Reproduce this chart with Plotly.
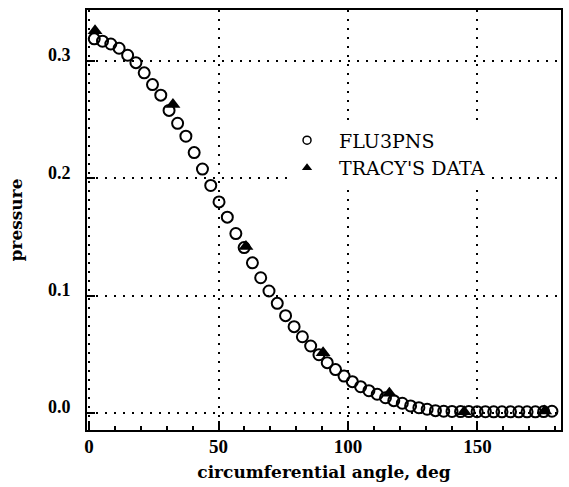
import plotly.graph_objects as go

# FLU3PNS (open circles)
flu_angle = [2.0, 5.2, 8.4, 11.6, 14.9, 18.1, 21.3, 24.5, 27.7, 30.9,
             34.2, 37.4, 40.6, 43.8, 47.0, 50.2, 53.4, 56.7, 59.9, 63.1,
             66.3, 69.5, 72.7, 75.9, 79.2, 82.4, 85.6, 88.8, 92.0, 95.2,
             98.5, 101.7, 104.9, 108.1, 111.3, 114.5, 117.7, 121.0, 124.2, 127.4,
             130.6, 133.8, 137.0, 140.2, 143.5, 146.7, 149.9, 153.1, 156.3, 159.5,
             162.8, 166.0, 169.2, 172.4, 175.6, 178.8]
flu_pressure = [0.319, 0.317, 0.3146, 0.311, 0.305, 0.2987, 0.290, 0.280, 0.271, 0.258,
                0.247, 0.236, 0.222, 0.208, 0.194, 0.180, 0.167, 0.153, 0.141, 0.128,
                0.1153, 0.104, 0.0935, 0.083, 0.0736, 0.065, 0.0571, 0.0497, 0.0429, 0.037,
                0.0315, 0.0267, 0.0224, 0.019, 0.016, 0.013, 0.0105, 0.0083, 0.006, 0.0045,
                0.0032, 0.002, 0.0015, 0.0013, 0.0012, 0.0012, 0.0011, 0.0011, 0.001, 0.001,
                0.001, 0.001, 0.001, 0.001, 0.0012, 0.0015]

# TRACY'S DATA (filled triangles)
tracy_angle = [2.3, 32.4, 60.6, 90.4, 116.0, 144.9, 176.0]
tracy_pressure = [0.326, 0.263, 0.142, 0.0514, 0.0168, 0.0011, 0.0017]

x_ticks = [0, 50, 100, 150]
y_ticks = [0.0, 0.1, 0.2, 0.3]
y_tick_labels = ["0.0", "0.1", "0.2", "0.3"]

serif = "Liberation Serif"
wide_serif = "DejaVu Serif"
nb = "\u00a0\u00a0"

fig = go.Figure()
fig.add_trace(go.Scatter(
    x=flu_angle, y=flu_pressure, mode="markers", name="FLU3PNS", showlegend=False,
    marker=dict(symbol="circle-open", size=11, color="black", line=dict(width=2, color="black")),
))
fig.add_trace(go.Scatter(
    x=tracy_angle, y=tracy_pressure, mode="markers", name="TRACY'S DATA", showlegend=False,
    marker=dict(symbol="triangle-up", size=13, color="black"),
))
# legend entries with smaller symbols
fig.add_trace(go.Scatter(
    x=[None], y=[None], mode="markers", name=nb + "FLU3PNS",
    marker=dict(symbol="circle-open", size=8, color="black", line=dict(width=1.5, color="black")),
))
fig.add_trace(go.Scatter(
    x=[None], y=[None], mode="markers", name=nb + "TRACY'S DATA",
    marker=dict(symbol="triangle-up", size=9, color="black"),
))

fig.update_layout(
    width=569, height=487,
    margin=dict(l=87, r=6, t=10, b=57),
    paper_bgcolor="white", plot_bgcolor="white",
    font=dict(family=serif, color="black"),
    legend=dict(
        x=0.422, y=0.735, xanchor="left", yanchor="top",
        bgcolor="white", borderwidth=0,
        font=dict(family=wide_serif, size=19, color="black"),
        tracegroupgap=0,
    ),
)

fig.update_xaxes(
    range=[-0.8, 182.3],
    tickvals=x_ticks,
    ticks="inside", ticklen=9, tickwidth=2, tickcolor="black",
    minor=dict(dtick=10, ticks="inside", ticklen=4, tickwidth=1.5, tickcolor="black", showgrid=False),
    showline=True, linewidth=2, linecolor="black", mirror=True,
    showgrid=True, gridcolor="black", gridwidth=1.5, griddash="1.5px,7.5px",
    zeroline=False,
    tickfont=dict(family=serif, size=19, weight="bold"),
    ticklabelstandoff=-2,
    title=dict(text="circumferential angle, deg", font=dict(family=wide_serif, size=17, weight="bold"), standoff=10),
)
fig.update_yaxes(
    range=[-0.0145, 0.3436],
    tickvals=y_ticks, ticktext=y_tick_labels,
    ticks="inside", ticklen=8, tickwidth=2, tickcolor="black",
    showline=True, linewidth=2, linecolor="black", mirror=True,
    showgrid=True, gridcolor="black", gridwidth=1.5, griddash="1.5px,7.5px",
    zeroline=False,
    tickfont=dict(family=serif, size=18, weight="bold"),
    ticklabelstandoff=11, ticklabelshift=-6,
    title=dict(text="pressure", font=dict(family=wide_serif, size=17, weight="bold"), standoff=21),
)

fig.write_html("out.html")
